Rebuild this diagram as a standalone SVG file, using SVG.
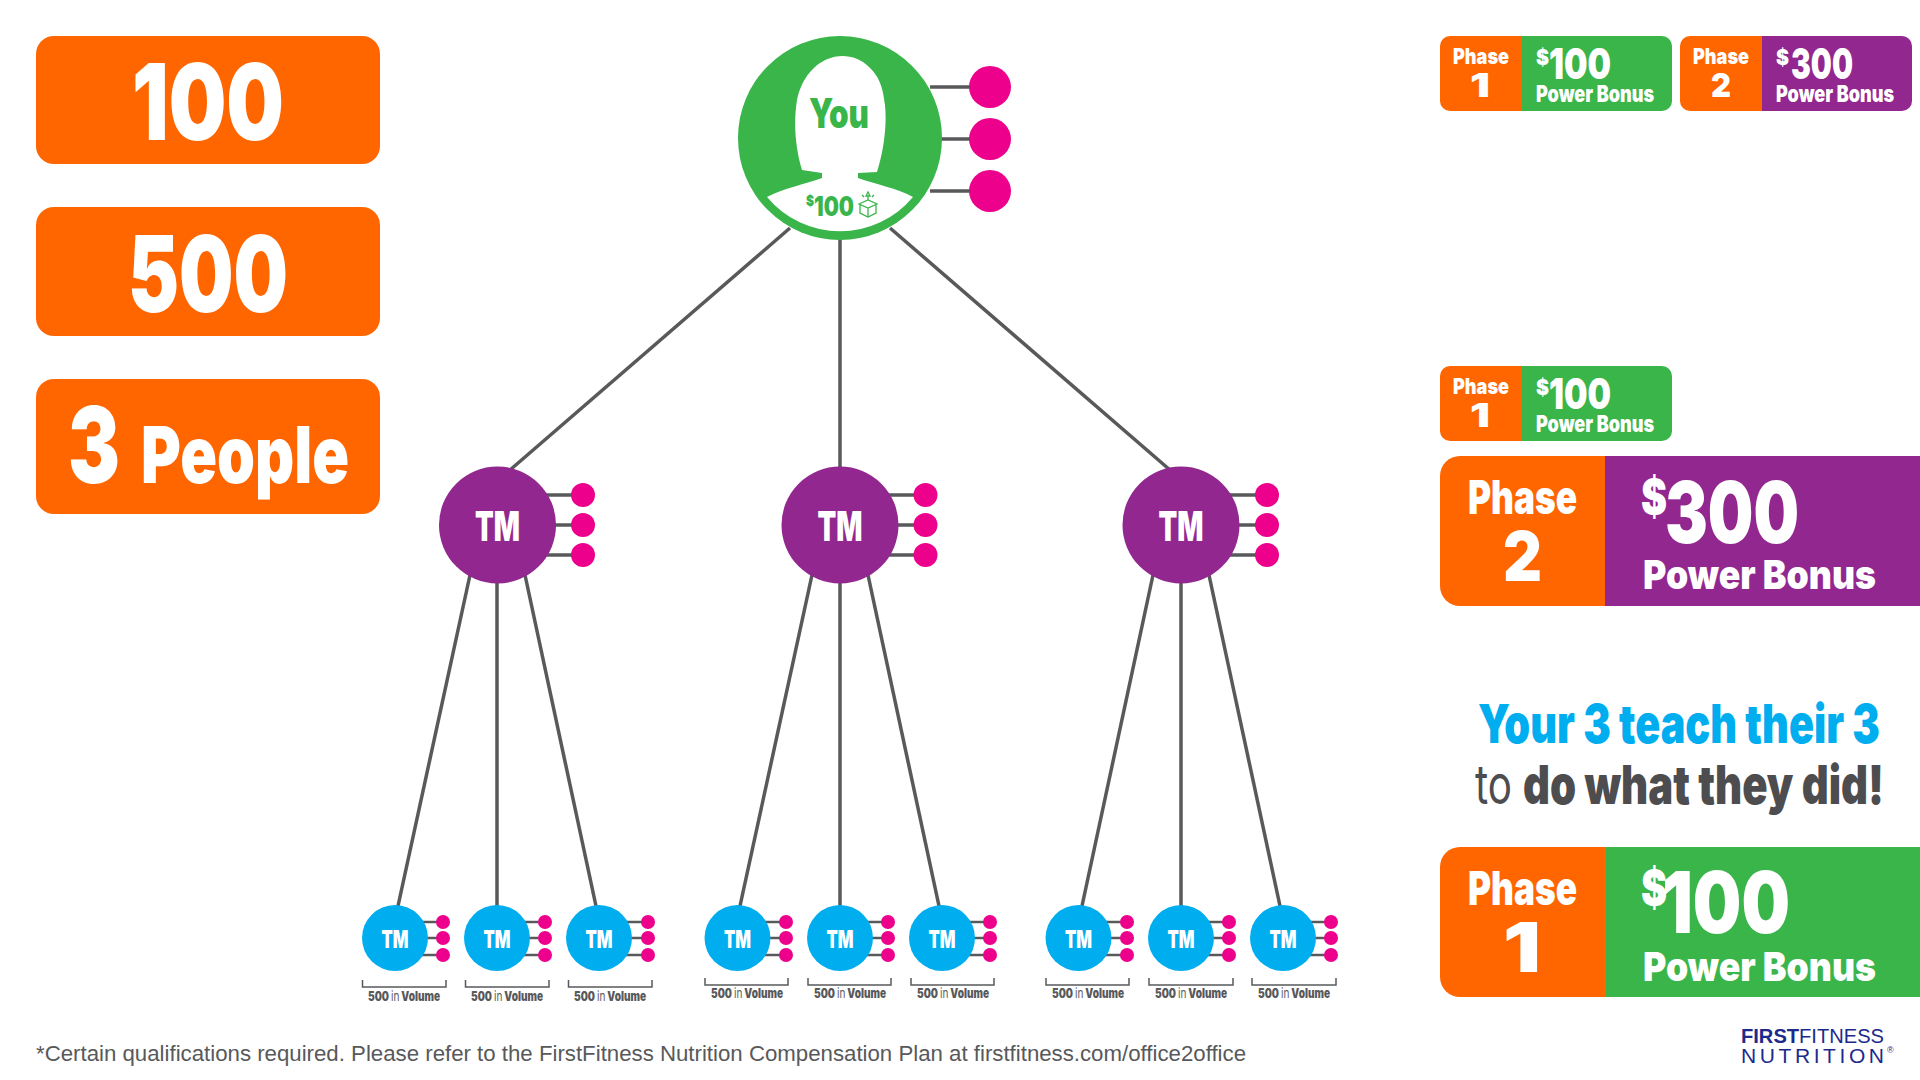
<svg xmlns="http://www.w3.org/2000/svg" width="1920" height="1080" viewBox="0 0 1920 1080">
<style>
text{font-family:Inter,Roboto,"Liberation Sans",sans-serif;font-weight:900;fill:#fff;transform-box:fill-box;transform-origin:left center;transform:scaleX(.75)}
.plain{font-family:"Liberation Sans",Arial,sans-serif;font-weight:400;transform:none}
.conn line{stroke:#58595b;stroke-width:3.500;fill:none}
.conn .thin line{stroke-width:2.500}
.org{fill:#ff6600}.grn{fill:#39b54a}.pur{fill:#92278f}.blu{fill:#00aeef}.pnk{fill:#ec008c}
.vol{font-size:13px;fill:#58595b}
.vol .lt{font-weight:400}
.tm1{font-size:41px}
.tm2{font-size:25px}
.brk{stroke:#58595b;stroke-width:1.500;fill:none}
</style>
<g id="connectors" class="conn">
<line x1="790" y1="228" x2="510" y2="470"/><line x1="840" y1="228" x2="840" y2="470"/><line x1="890" y1="228" x2="1170" y2="470"/>
<line x1="930" y1="87" x2="980" y2="87"/><line x1="930" y1="139" x2="980" y2="139"/><line x1="930" y1="191" x2="980" y2="191"/>
<line x1="470" y1="575" x2="398" y2="906"/><line x1="497" y1="575" x2="497" y2="906"/><line x1="525" y1="575" x2="596" y2="906"/>
<line x1="812" y1="575" x2="740" y2="906"/><line x1="840" y1="575" x2="840" y2="906"/><line x1="868" y1="575" x2="939" y2="906"/>
<line x1="1153" y1="575" x2="1082" y2="906"/><line x1="1181" y1="575" x2="1181" y2="906"/><line x1="1209" y1="575" x2="1280" y2="906"/>
<line x1="540" y1="495" x2="583" y2="495"/><line x1="540" y1="525" x2="583" y2="525"/><line x1="540" y1="555" x2="583" y2="555"/>
<line x1="883" y1="495" x2="926" y2="495"/><line x1="883" y1="525" x2="926" y2="525"/><line x1="883" y1="555" x2="926" y2="555"/>
<line x1="1224" y1="495" x2="1267" y2="495"/><line x1="1224" y1="525" x2="1267" y2="525"/><line x1="1224" y1="555" x2="1267" y2="555"/>
<g class="thin">
<line x1="415" y1="922" x2="443" y2="922"/><line x1="415" y1="938" x2="443" y2="938"/><line x1="415" y1="955" x2="443" y2="955"/>
<line x1="517" y1="922" x2="545" y2="922"/><line x1="517" y1="938" x2="545" y2="938"/><line x1="517" y1="955" x2="545" y2="955"/>
<line x1="619" y1="922" x2="648" y2="922"/><line x1="619" y1="938" x2="648" y2="938"/><line x1="619" y1="955" x2="648" y2="955"/>
<line x1="757" y1="922" x2="786" y2="922"/><line x1="757" y1="938" x2="786" y2="938"/><line x1="757" y1="955" x2="786" y2="955"/>
<line x1="860" y1="922" x2="888" y2="922"/><line x1="860" y1="938" x2="888" y2="938"/><line x1="860" y1="955" x2="888" y2="955"/>
<line x1="962" y1="922" x2="990" y2="922"/><line x1="962" y1="938" x2="990" y2="938"/><line x1="962" y1="955" x2="990" y2="955"/>
<line x1="1099" y1="922" x2="1127" y2="922"/><line x1="1099" y1="938" x2="1127" y2="938"/><line x1="1099" y1="955" x2="1127" y2="955"/>
<line x1="1201" y1="922" x2="1229" y2="922"/><line x1="1201" y1="938" x2="1229" y2="938"/><line x1="1201" y1="955" x2="1229" y2="955"/>
<line x1="1303" y1="922" x2="1331" y2="922"/><line x1="1303" y1="938" x2="1331" y2="938"/><line x1="1303" y1="955" x2="1331" y2="955"/>
</g>
</g>

<g id="box-100"><rect class="org" x="36" y="36" width="344" height="128" rx="18"/><text x="132" y="140" font-size="106" textLength="202.670" lengthAdjust="spacingAndGlyphs">100</text></g>
<g id="box-500"><rect class="org" x="36" y="207" width="344" height="129" rx="18"/><text x="128" y="312" font-size="106" textLength="213.330" lengthAdjust="spacingAndGlyphs">500</text></g>
<g id="box-3people"><rect class="org" x="36" y="379" width="344" height="135" rx="18"/><text x="68" y="483" font-size="106" textLength="69.330" lengthAdjust="spacingAndGlyphs">3</text><text x="141" y="483" font-size="79" textLength="277.330" lengthAdjust="spacingAndGlyphs">People</text></g>

<g id="you">
<circle class="grn" cx="840" cy="138" r="102"/>
<path fill="#fff" d="M843 56C820 56 802 75 797 100C793 125 796 150 802 170L822 173V178C805 184 785 188 767 197A95 95 0 0 0 913 197C896 188 875 184 858 178V173L877 172C884 150 887 125 885 105C883 90 881 75 863 62C857 58 850 56 843 56Z"/>
<text style="fill:#39b54a" x="809" y="128" font-size="41" textLength="80" lengthAdjust="spacingAndGlyphs">You</text>
<text style="fill:#39b54a" x="806" y="206" font-size="14" textLength="10.670" lengthAdjust="spacingAndGlyphs">$</text>
<text style="fill:#39b54a" x="814" y="216" font-size="26.500" textLength="53.330" lengthAdjust="spacingAndGlyphs">100</text>
<g fill="none" stroke="#39b54a" stroke-width="1.300"><path d="M859 204L868 200L877 204L868 208ZM860 205V213L868 217L876 213V205M868 208V217"/><path d="M868 192L870 196L866 196Z"/><path d="M868 196V200M862 195L864 197M874 195L872 197"/></g>
</g>
<g id="you-p1"><circle class="pnk" cx="990" cy="87" r="21"/></g>
<g id="you-p2"><circle class="pnk" cx="990" cy="139" r="21"/></g>
<g id="you-p3"><circle class="pnk" cx="990" cy="191" r="21"/></g>

<g id="tm-a"><circle class="pur" cx="497.500" cy="525" r="58.500"/><text class="tm1" x="475" y="541" textLength="60" lengthAdjust="spacingAndGlyphs">TM</text><circle class="pnk" cx="583" cy="495" r="12"/><circle class="pnk" cx="583" cy="525" r="12"/><circle class="pnk" cx="583" cy="555" r="12"/></g>
<g id="tm-b"><circle class="pur" cx="840" cy="525" r="58.500"/><text class="tm1" x="817.500" y="541" textLength="60" lengthAdjust="spacingAndGlyphs">TM</text><circle class="pnk" cx="925.500" cy="495" r="12"/><circle class="pnk" cx="925.500" cy="525" r="12"/><circle class="pnk" cx="925.500" cy="555" r="12"/></g>
<g id="tm-c"><circle class="pur" cx="1181" cy="525" r="58.500"/><text class="tm1" x="1158.500" y="541" textLength="60" lengthAdjust="spacingAndGlyphs">TM</text><circle class="pnk" cx="1267" cy="495" r="12"/><circle class="pnk" cx="1267" cy="525" r="12"/><circle class="pnk" cx="1267" cy="555" r="12"/></g>

<g id="a1"><circle class="blu" cx="395" cy="938" r="33"/><text class="tm2" x="381.500" y="948" textLength="36" lengthAdjust="spacingAndGlyphs">TM</text><circle class="pnk" cx="443" cy="922" r="7"/><circle class="pnk" cx="443" cy="938" r="7"/><circle class="pnk" cx="443" cy="955" r="7"/><path class="brk" d="M362.500 980V987H446V980"/><text class="vol" x="368" y="1001" textLength="96" lengthAdjust="spacingAndGlyphs">500 <tspan class="lt">in</tspan> Volume</text></g>
<g id="a2"><circle class="blu" cx="497" cy="938" r="33"/><text class="tm2" x="483.500" y="948" textLength="36" lengthAdjust="spacingAndGlyphs">TM</text><circle class="pnk" cx="545" cy="922" r="7"/><circle class="pnk" cx="545" cy="938" r="7"/><circle class="pnk" cx="545" cy="955" r="7"/><path class="brk" d="M465.500 980V987H549V980"/><text class="vol" x="471" y="1001" textLength="96" lengthAdjust="spacingAndGlyphs">500 <tspan class="lt">in</tspan> Volume</text></g>
<g id="a3"><circle class="blu" cx="599" cy="938" r="33"/><text class="tm2" x="585.500" y="948" textLength="36" lengthAdjust="spacingAndGlyphs">TM</text><circle class="pnk" cx="648" cy="922" r="7"/><circle class="pnk" cx="648" cy="938" r="7"/><circle class="pnk" cx="648" cy="955" r="7"/><path class="brk" d="M568.500 980V987H652V980"/><text class="vol" x="574" y="1001" textLength="96" lengthAdjust="spacingAndGlyphs">500 <tspan class="lt">in</tspan> Volume</text></g>
<g id="b1"><circle class="blu" cx="737.500" cy="938" r="33"/><text class="tm2" x="724" y="948" textLength="36" lengthAdjust="spacingAndGlyphs">TM</text><circle class="pnk" cx="786" cy="922" r="7"/><circle class="pnk" cx="786" cy="938" r="7"/><circle class="pnk" cx="786" cy="955" r="7"/><path class="brk" d="M705 978V985H788V978"/><text class="vol" x="711" y="998" textLength="96" lengthAdjust="spacingAndGlyphs">500 <tspan class="lt">in</tspan> Volume</text></g>
<g id="b2"><circle class="blu" cx="840" cy="938" r="33"/><text class="tm2" x="826.500" y="948" textLength="36" lengthAdjust="spacingAndGlyphs">TM</text><circle class="pnk" cx="888" cy="922" r="7"/><circle class="pnk" cx="888" cy="938" r="7"/><circle class="pnk" cx="888" cy="955" r="7"/><path class="brk" d="M808 978V985H891V978"/><text class="vol" x="814" y="998" textLength="96" lengthAdjust="spacingAndGlyphs">500 <tspan class="lt">in</tspan> Volume</text></g>
<g id="b3"><circle class="blu" cx="942" cy="938" r="33"/><text class="tm2" x="928.500" y="948" textLength="36" lengthAdjust="spacingAndGlyphs">TM</text><circle class="pnk" cx="990" cy="922" r="7"/><circle class="pnk" cx="990" cy="938" r="7"/><circle class="pnk" cx="990" cy="955" r="7"/><path class="brk" d="M911 978V985H994V978"/><text class="vol" x="917" y="998" textLength="96" lengthAdjust="spacingAndGlyphs">500 <tspan class="lt">in</tspan> Volume</text></g>
<g id="c1"><circle class="blu" cx="1078.500" cy="938" r="33"/><text class="tm2" x="1065" y="948" textLength="36" lengthAdjust="spacingAndGlyphs">TM</text><circle class="pnk" cx="1127" cy="922" r="7"/><circle class="pnk" cx="1127" cy="938" r="7"/><circle class="pnk" cx="1127" cy="955" r="7"/><path class="brk" d="M1046 978V985H1129V978"/><text class="vol" x="1052" y="998" textLength="96" lengthAdjust="spacingAndGlyphs">500 <tspan class="lt">in</tspan> Volume</text></g>
<g id="c2"><circle class="blu" cx="1181" cy="938" r="33"/><text class="tm2" x="1167.500" y="948" textLength="36" lengthAdjust="spacingAndGlyphs">TM</text><circle class="pnk" cx="1229" cy="922" r="7"/><circle class="pnk" cx="1229" cy="938" r="7"/><circle class="pnk" cx="1229" cy="955" r="7"/><path class="brk" d="M1149 978V985H1233V978"/><text class="vol" x="1155" y="998" textLength="96" lengthAdjust="spacingAndGlyphs">500 <tspan class="lt">in</tspan> Volume</text></g>
<g id="c3"><circle class="blu" cx="1283" cy="938" r="33"/><text class="tm2" x="1269.500" y="948" textLength="36" lengthAdjust="spacingAndGlyphs">TM</text><circle class="pnk" cx="1331" cy="922" r="7"/><circle class="pnk" cx="1331" cy="938" r="7"/><circle class="pnk" cx="1331" cy="955" r="7"/><path class="brk" d="M1252 978V985H1336V978"/><text class="vol" x="1258" y="998" textLength="96" lengthAdjust="spacingAndGlyphs">500 <tspan class="lt">in</tspan> Volume</text></g>

<g id="badge-top-1"><rect class="grn" x="1500" y="36" width="172" height="75" rx="10"/><path class="org" d="M1522 36H1450A10 10 0 0 0 1440 46V101A10 10 0 0 0 1450 111H1522Z"/>
<text x="1453" y="64" font-size="22" textLength="74.670" lengthAdjust="spacingAndGlyphs">Phase</text><text x="1470" y="97" font-size="33" textLength="26.670" lengthAdjust="spacingAndGlyphs">1</text><text x="1536" y="65" font-size="22" textLength="17.330" lengthAdjust="spacingAndGlyphs">$</text><text x="1549" y="79" font-size="42" textLength="82.670" lengthAdjust="spacingAndGlyphs">100</text><text x="1536" y="102" font-size="22.500" textLength="157.330" lengthAdjust="spacingAndGlyphs">Power Bonus</text></g>
<g id="badge-top-2"><rect class="pur" x="1740" y="36" width="172" height="75" rx="10"/><path class="org" d="M1762 36H1690A10 10 0 0 0 1680 46V101A10 10 0 0 0 1690 111H1762Z"/>
<text x="1693" y="64" font-size="22" textLength="74.670" lengthAdjust="spacingAndGlyphs">Phase</text><text x="1711" y="97" font-size="33" textLength="26.670" lengthAdjust="spacingAndGlyphs">2</text><text x="1776" y="65" font-size="22" textLength="17.330" lengthAdjust="spacingAndGlyphs">$</text><text x="1791" y="79" font-size="42" textLength="82.670" lengthAdjust="spacingAndGlyphs">300</text><text x="1776" y="102" font-size="22.500" textLength="157.330" lengthAdjust="spacingAndGlyphs">Power Bonus</text></g>
<g id="badge-mid-1"><rect class="grn" x="1500" y="366" width="172" height="75" rx="10"/><path class="org" d="M1522 366H1450A10 10 0 0 0 1440 376V431A10 10 0 0 0 1450 441H1522Z"/>
<text x="1453" y="394" font-size="22" textLength="74.670" lengthAdjust="spacingAndGlyphs">Phase</text><text x="1470" y="427" font-size="33" textLength="26.670" lengthAdjust="spacingAndGlyphs">1</text><text x="1536" y="395" font-size="22" textLength="17.330" lengthAdjust="spacingAndGlyphs">$</text><text x="1549" y="409" font-size="42" textLength="82.670" lengthAdjust="spacingAndGlyphs">100</text><text x="1536" y="432" font-size="22.500" textLength="157.330" lengthAdjust="spacingAndGlyphs">Power Bonus</text></g>
<g id="badge-large-2"><rect class="pur" x="1600" y="456" width="320" height="150"/><path class="org" d="M1605 456H1460A20 20 0 0 0 1440 476V586A20 20 0 0 0 1460 606H1605Z"/>
<text x="1468" y="514" font-size="47" textLength="145.330" lengthAdjust="spacingAndGlyphs">Phase</text><text x="1503" y="581" font-size="69" textLength="52" lengthAdjust="spacingAndGlyphs">2</text><text x="1641" y="514" font-size="48" textLength="34.670" lengthAdjust="spacingAndGlyphs">$</text><text x="1665" y="543" font-size="85" textLength="178.670" lengthAdjust="spacingAndGlyphs">300</text><text x="1643" y="589" font-size="40" textLength="310.670" lengthAdjust="spacingAndGlyphs">Power Bonus</text></g>
<g id="badge-large-1"><rect class="grn" x="1600" y="847" width="320" height="150"/><path class="org" d="M1606 847H1460A20 20 0 0 0 1440 867V977A20 20 0 0 0 1460 997H1606Z"/>
<text x="1468" y="905" font-size="47" textLength="145.330" lengthAdjust="spacingAndGlyphs">Phase</text><text x="1503" y="972" font-size="69" textLength="50.670" lengthAdjust="spacingAndGlyphs">1</text><text x="1641" y="905" font-size="48" textLength="34.670" lengthAdjust="spacingAndGlyphs">$</text><text x="1662" y="933" font-size="85" textLength="170.670" lengthAdjust="spacingAndGlyphs">100</text><text x="1643" y="981" font-size="40" textLength="310.670" lengthAdjust="spacingAndGlyphs">Power Bonus</text></g>

<g id="headline">
<text style="fill:#00aeef" x="1478" y="743" font-size="54" textLength="536" lengthAdjust="spacingAndGlyphs">Your 3 teach their 3</text>
<text style="fill:#4d4d4f;font-weight:400" x="1475" y="804" font-size="54" textLength="49.330" lengthAdjust="spacingAndGlyphs">to</text>
<text style="fill:#4d4d4f" x="1523" y="804" font-size="54" textLength="481.330" lengthAdjust="spacingAndGlyphs">do what they did!</text>
</g>
<text id="footer" class="plain" style="fill:#58595b" x="36" y="1061" font-size="22" textLength="1210" lengthAdjust="spacingAndGlyphs">*Certain qualifications required. Please refer to the FirstFitness Nutrition Compensation Plan at firstfitness.com/office2office</text>
<g id="logo">
<text class="plain" style="fill:#1b2a8c;font-size:20px" x="1741" y="1043" textLength="143" lengthAdjust="spacingAndGlyphs"><tspan font-weight="700">FIRST</tspan><tspan font-weight="400">FITNESS</tspan></text>
<text class="plain" style="fill:#1b2a8c;font-size:21px" x="1741" y="1063" textLength="143" lengthAdjust="spacing">NUTRITION</text>
<text class="plain" style="fill:#1b2a8c;font-size:9px" x="1887" y="1053">®</text>
</g>
</svg>
